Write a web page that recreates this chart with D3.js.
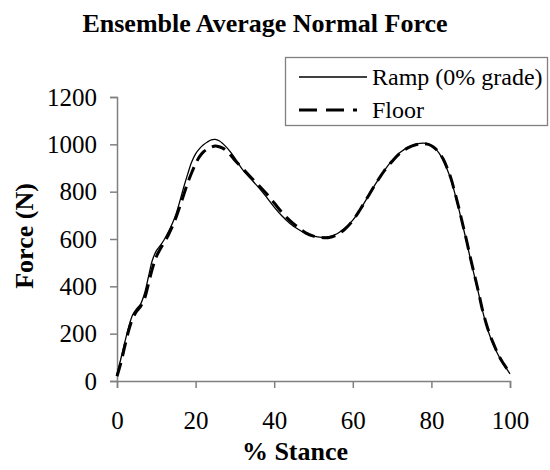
<!DOCTYPE html>
<html>
<head>
<meta charset="utf-8">
<script src="https://cdn.jsdelivr.net/npm/d3@7"></script>
<style>
  body { margin: 0; background: #fff; }
</style>
</head>
<body>
<div id="chart"></div>
<script>
var width = 550, height = 470
var serif = "'Liberation Serif', 'Times New Roman', Times, serif"

// % stance positions and force (N) for each surface
var stance = [0,1,2,3,4,5,6,7,8,9,10,11,12,13,14,15,16,17,18,19,20,21,22,23,24,25,26,27,28,29,30,
  32,34,36,38,40,42,44,46,48,50,52,54,56,58,60,62,64,66,68,70,72,74,76,78,79,80,81,82,83,84,85,
  86,87,88,89,90,91,92,93,94,95,96,97,98,99,100]
var ramp = [30,95,165,230,280,305,325,370,440,510,550,572,597,628,662,705,760,820,875,925,960,982,998,1010,1019,1021,1015,1002,985,965,942,
  892,855,818,778,735,697,666,642,623,612,607,610,622,646,680,728,783,838,888,932,965,987,1000,1005,1003,995,982,962,933,895,850,
  790,725,655,585,510,440,370,297,235,185,145,110,80,55,30]
var floor = [20,78,148,215,265,295,315,348,410,475,525,558,585,615,650,690,738,788,838,880,918,948,968,980,988,993,990,983,970,953,933,
  897,862,828,792,752,712,678,650,626,612,606,606,618,642,678,728,783,838,888,928,962,985,998,1003,1001,994,982,964,938,900,855,
  795,730,660,590,515,445,375,300,240,190,150,112,82,57,30]

var xTicks = [0,20,40,60,80,100]
var yTicks = [0,200,400,600,800,1000,1200]
var seriesNames = ["Ramp (0% grade)", "Floor"]

var margin = {left: 117, right: 40, top: 97, bottom: 89}

var svg = d3.select("#chart")
  .append("svg")
    .attr("width", width)
    .attr("height", height)
    .style("font-family", serif)

var x = d3.scaleLinear()
  .domain([0, 100])
  .range([margin.left, width - margin.right])

var y = d3.scaleLinear()
  .domain([0, 1200])
  .range([height - margin.bottom, margin.top])

// axes
var xAxis = svg.append("g")
  .attr("transform", `translate(0,${height - margin.bottom})`)
  .call(d3.axisBottom(x).tickValues(xTicks).tickFormat(d3.format("d")).tickSize(7).tickPadding(23))
var yAxis = svg.append("g")
  .attr("transform", `translate(${margin.left},0)`)
  .call(d3.axisLeft(y).tickValues(yTicks).tickFormat(d3.format("d")).tickSize(7).tickPadding(13))

svg.selectAll(".domain, .tick line")
  .attr("stroke", "#808080")
  .attr("stroke-width", 1.5)
svg.selectAll(".tick text")
  .style("font-family", serif)
  .style("font-size", "25px")
  .attr("fill", "#000")

// title and axis labels
svg.append("text")
  .attr("x", 265)
  .attr("y", 32)
  .attr("text-anchor", "middle")
  .style("font-family", serif)
  .style("font-size", "26px")
  .style("font-weight", "bold")
  .text("Ensemble Average Normal Force")

svg.append("text")
  .attr("x", 295)
  .attr("y", 460)
  .attr("text-anchor", "middle")
  .style("font-family", serif)
  .style("font-size", "26px")
  .style("font-weight", "bold")
  .text("% Stance")

svg.append("text")
  .attr("transform", "translate(33,236) rotate(-90)")
  .attr("text-anchor", "middle")
  .style("font-family", serif)
  .style("font-size", "26px")
  .style("font-weight", "bold")
  .text("Force (N)")

// lines
var line = d3.line()
  .x(function(d, i) { return x(stance[i]) })
  .y(function(d) { return y(d) })
  .curve(d3.curveCatmullRom)

svg.append("path")
  .datum(floor)
  .attr("fill", "none")
  .attr("stroke", "#000")
  .attr("stroke-width", 3)
  .attr("stroke-dasharray", "14,7")
  .attr("d", line)

svg.append("path")
  .datum(ramp)
  .attr("fill", "none")
  .attr("stroke", "#000")
  .attr("stroke-width", 1.3)
  .attr("d", line)

// legend
var legend = svg.append("g")
legend.append("rect")
  .attr("x", 285.5)
  .attr("y", 57.5)
  .attr("width", 262)
  .attr("height", 68)
  .attr("fill", "#fff")
  .attr("stroke", "#808080")
  .attr("stroke-width", 1.3)

seriesNames.forEach(function(name, i) {
  var ly = 77 + i * 33
  legend.append("line")
    .attr("x1", 299).attr("x2", 367)
    .attr("y1", ly).attr("y2", ly)
    .attr("stroke", "#000")
    .attr("stroke-width", i == 0 ? 1.3 : 3)
    .attr("stroke-dasharray", i == 0 ? null : "18,9,18,9,4")
  legend.append("text")
    .attr("x", 372)
    .attr("y", ly + 8)
    .style("font-family", serif)
    .style("font-size", "24px")
    .text(name)
})
</script>
</body>
</html>
